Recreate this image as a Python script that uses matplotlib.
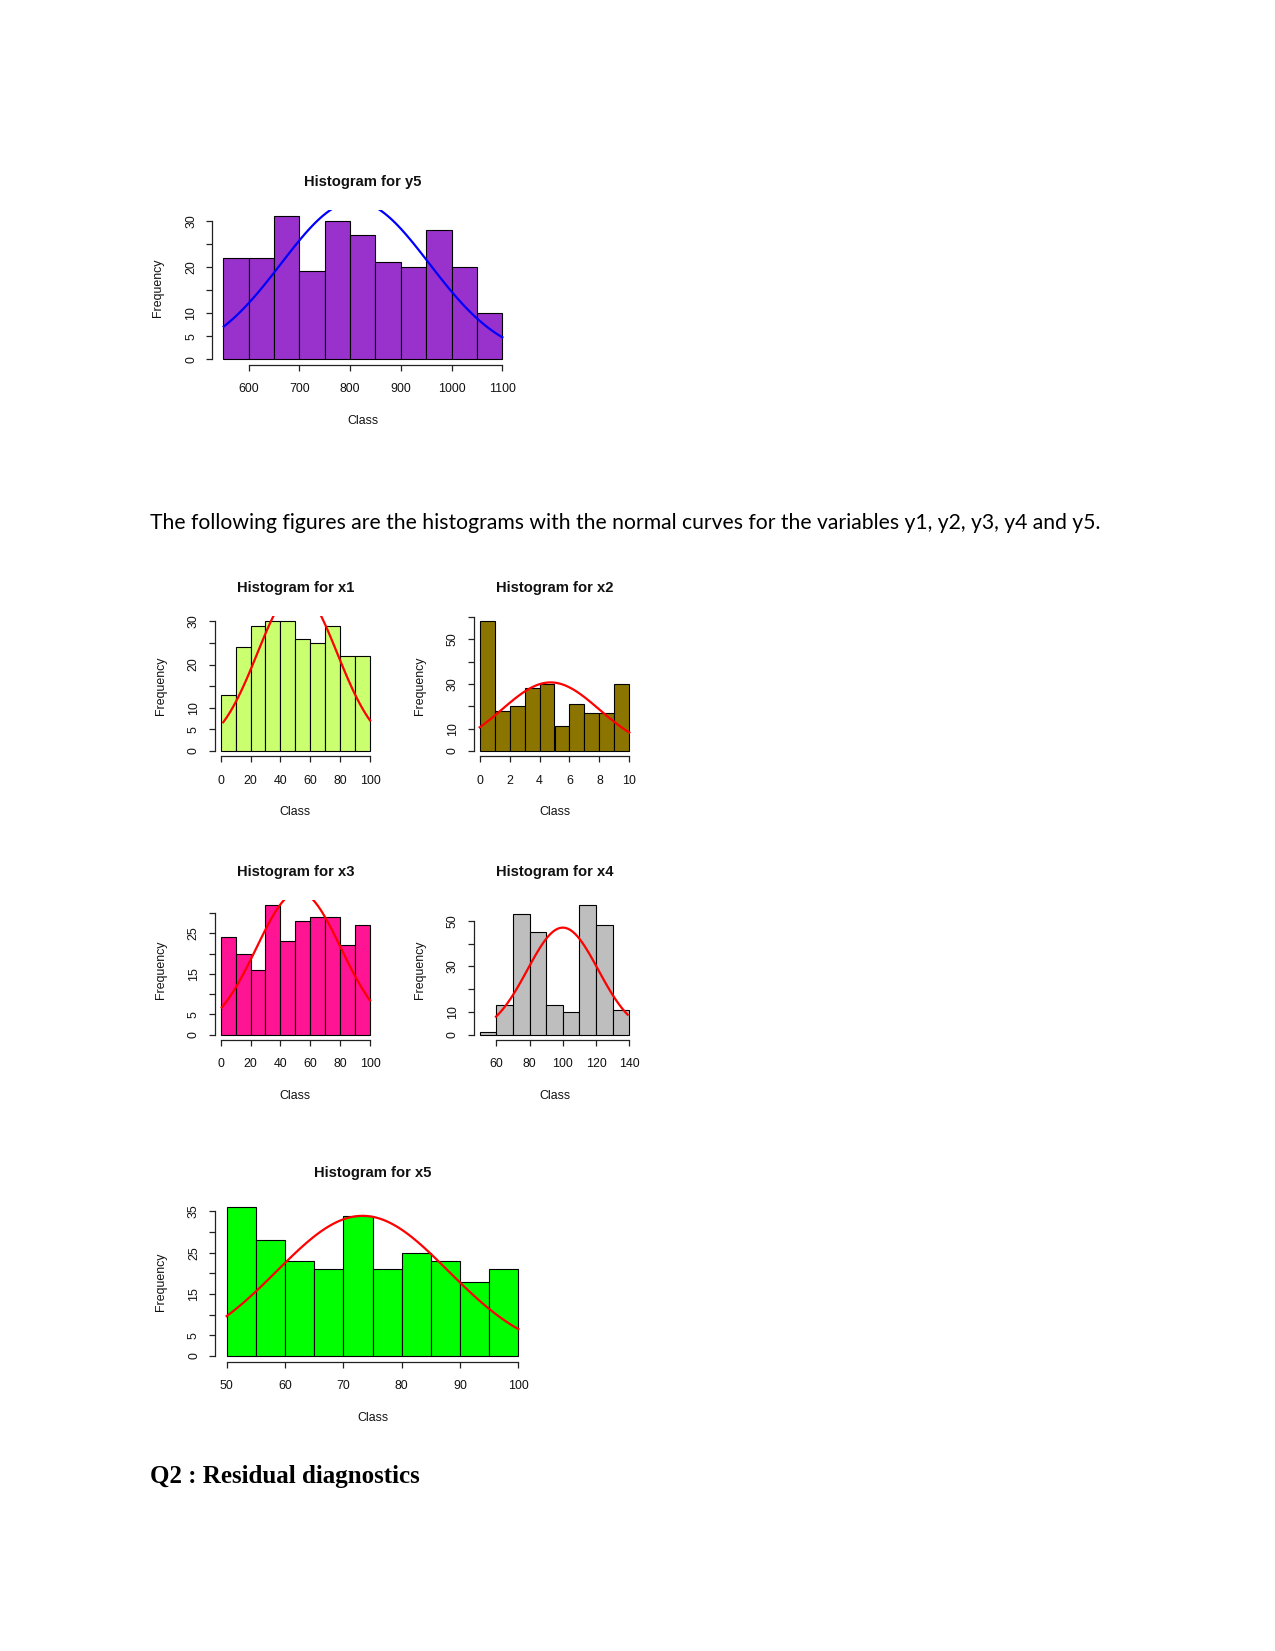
import numpy as np
import matplotlib
matplotlib.use("Agg")
import matplotlib.pyplot as plt

# ---------------- data ----------------
y5_breaks = [550, 600, 650, 700, 750, 800, 850, 900, 950, 1000, 1050, 1100]
y5_counts = [22, 22, 31, 19, 30, 27, 21, 20, 28, 20, 10]
y5_mean, y5_sd, y5_span = 810.0, 146.0, (551.0, 1100.0)
y5_xticks = [600, 700, 800, 900, 1000, 1100]
y5_yticks = [0, 5, 10, 15, 20, 25, 30]
y5_ylabels = ["0", "5", "10", "", "20", "", "30"]

x1_breaks = [0, 10, 20, 30, 40, 50, 60, 70, 80, 90, 100]
x1_counts = [13, 24, 29, 30, 30, 26, 25, 29, 22, 22]
x1_mean, x1_sd, x1_span = 51.3, 26.7, (1.7, 100.0)
x1_xticks = [0, 20, 40, 60, 80, 100]
x1_yticks = [0, 5, 10, 15, 20, 25, 30]
x1_ylabels = ["0", "5", "10", "", "20", "", "30"]

x2_breaks = [0, 1, 2, 3, 4, 5, 6, 7, 8, 9, 10]
x2_counts = [58, 18, 20, 28, 30, 11, 21, 17, 17, 30]
x2_mean, x2_sd, x2_span = 4.74, 3.25, (0.0, 10.0)
x2_xticks = [0, 2, 4, 6, 8, 10]
x2_yticks = [0, 10, 20, 30, 40, 50, 60]
x2_ylabels = ["0", "10", "", "30", "", "50", ""]

x3_breaks = [0, 10, 20, 30, 40, 50, 60, 70, 80, 90, 100]
x3_counts = [24, 20, 16, 32, 23, 28, 29, 29, 22, 27]
x3_mean, x3_sd, x3_span = 52.2, 28.3, (0.7, 100.0)
x3_xticks = [0, 20, 40, 60, 80, 100]
x3_yticks = [0, 5, 10, 15, 20, 25, 30]
x3_ylabels = ["0", "5", "", "15", "", "25", ""]

x4_breaks = [50, 60, 70, 80, 90, 100, 110, 120, 130, 140]
x4_counts = [1, 13, 53, 45, 13, 10, 57, 48, 11]
x4_mean, x4_sd, x4_span = 100.0, 21.3, (59.8, 139.0)
x4_xticks = [60, 80, 100, 120, 140]
x4_yticks = [0, 10, 20, 30, 40, 50]
x4_ylabels = ["0", "10", "", "30", "", "50"]

x5_breaks = [50, 55, 60, 65, 70, 75, 80, 85, 90, 95, 100]
x5_counts = [36, 28, 23, 21, 34, 21, 25, 23, 18, 21]
x5_mean, x5_sd, x5_span = 73.3, 14.7, (50.0, 100.0)
x5_xticks = [50, 60, 70, 80, 90, 100]
x5_yticks = [0, 5, 10, 15, 20, 25, 30, 35]
x5_ylabels = ["0", "5", "", "15", "", "25", "", "35"]

paragraph = ("The following figures are the histograms with the normal curves "
             "for the variables y1, y2, y3, y4 and y5.")
heading = "Q2 : Residual diagnostics"

# ---------------- figure ----------------
W, H = 1275, 1651
plt.rcParams["font.family"] = ["Liberation Sans", "DejaVu Sans"]
fig = plt.figure(figsize=(W / 100, H / 100), dpi=100)
fig.patch.set_facecolor("white")

LABEL_FS = 8.9
TITLE_FS = 10.6


def fx(x):
    return x / W


def fy(y):
    return 1 - y / H


def panel(box, breaks, counts, color, ccolor, mean, sd, span,
          xticks, yticks, ylabels, title):
    x0, y0, x1, y1 = box
    ax = fig.add_axes([fx(x0), fy(y1), (x1 - x0) / W, (y1 - y0) / H])
    breaks = np.asarray(breaks, float)
    counts = np.asarray(counts, float)
    bw = breaks[1] - breaks[0]
    ax.bar(breaks[:-1], counts, width=np.diff(breaks), align="edge",
           color=color, edgecolor="black", linewidth=0.8)
    xs = np.linspace(span[0], span[1], 120)
    ys = np.exp(-0.5 * ((xs - mean) / sd) ** 2) / (sd * np.sqrt(2 * np.pi))
    ys = ys * bw * counts.sum()
    ax.plot(xs, ys, color=ccolor, linewidth=1.6)
    lo, hi = breaks[0], breaks[-1]
    ext = 0.04 * (hi - lo)
    ax.set_xlim(lo - ext, hi + ext)
    ym = counts.max()
    ax.set_ylim(-0.04 * ym, 1.04 * ym)
    ax.set_facecolor("none")
    for s in ("top", "right"):
        ax.spines[s].set_visible(False)
    ax.spines["left"].set_bounds(yticks[0], yticks[-1])
    ax.spines["bottom"].set_bounds(xticks[0], xticks[-1])
    for s in ("left", "bottom"):
        ax.spines[s].set_color("#222222")
        ax.spines[s].set_linewidth(0.9)
    ax.set_xticks(xticks)
    ax.set_xticklabels([str(t) for t in xticks])
    ax.set_yticks(yticks)
    ax.set_yticklabels(ylabels)
    ax.tick_params(axis="both", length=4.3, width=0.9, color="#222222",
                   labelsize=LABEL_FS, labelcolor="#111111")
    ax.tick_params(axis="x", pad=9.0)
    ax.tick_params(axis="y", pad=6.5)
    for lab in ax.get_yticklabels():
        lab.set_rotation(90)
        lab.set_va("center")
        lab.set_ha("right")
    cx = (x0 + x1) / 2
    cy = (y0 + y1) / 2
    fig.text(fx(cx), fy(y0 - 28), title, ha="center", va="center",
             fontsize=TITLE_FS, fontweight="bold", color="#111111")
    fig.text(fx(cx), fy(y1 + 56), "Class", ha="center", va="center",
             fontsize=LABEL_FS, color="#111111")
    fig.text(fx(x0 - 54), fy(cy), "Frequency", ha="center", va="center",
             rotation=90, fontsize=LABEL_FS, color="#111111")
    return ax


panel((212.1, 210.3, 513.5, 365.0), y5_breaks, y5_counts, "#9932CC", "#0000FF",
      y5_mean, y5_sd, y5_span, y5_xticks, y5_yticks, y5_ylabels, "Histogram for y5")
panel((214.7, 616.2, 376.0, 756.2), x1_breaks, x1_counts, "#CAFF70", "#FF0000",
      x1_mean, x1_sd, x1_span, x1_xticks, x1_yticks, x1_ylabels, "Histogram for x1")
panel((473.7, 616.2, 635.3, 756.2), x2_breaks, x2_counts, "#8B7500", "#FF0000",
      x2_mean, x2_sd, x2_span, x2_xticks, x2_yticks, x2_ylabels, "Histogram for x2")
panel((214.7, 899.7, 376.0, 1039.9), x3_breaks, x3_counts, "#FF1493", "#FF0000",
      x3_mean, x3_sd, x3_span, x3_xticks, x3_yticks, x3_ylabels, "Histogram for x3")
panel((473.7, 899.7, 635.3, 1039.9), x4_breaks, x4_counts, "#BEBEBE", "#FF0000",
      x4_mean, x4_sd, x4_span, x4_xticks, x4_yticks, x4_ylabels, "Histogram for x4")
panel((215.0, 1201.3, 530.0, 1362.0), x5_breaks, x5_counts, "#00FF00", "#FF0000",
      x5_mean, x5_sd, x5_span, x5_xticks, x5_yticks, x5_ylabels, "Histogram for x5")

# document text, fitted to the measured widths
renderer = fig.canvas.get_renderer()


def fitted_text(x, y, s, width_px, **kw):
    t = fig.text(fx(x), fy(y), s, ha="left", va="center", fontsize=12, **kw)
    w = t.get_window_extent(renderer=renderer).width
    t.set_fontsize(12 * width_px / w)
    return t


fitted_text(150.0, 522.5, paragraph, 947.0, family=["Lato", "DejaVu Sans"],
            color="#000000")
fitted_text(150.5, 1476.5, heading, 269.0, family=["Liberation Serif", "DejaVu Serif"],
            fontweight="bold", color="#000000")

fig.savefig("out.png", dpi=100, facecolor="white")
